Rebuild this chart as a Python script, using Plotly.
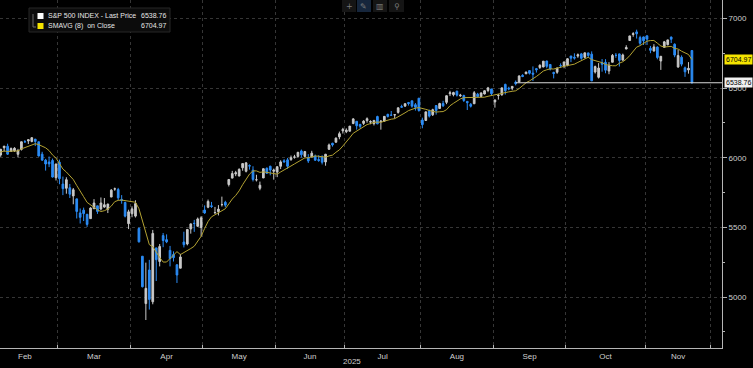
import plotly.graph_objects as go
import pandas as pd

# ---------------- data (read / estimated from the reference) ----------------
dates = [
    # Jan (lead-in for the moving average)
    "2025-01-21", "2025-01-22", "2025-01-23", "2025-01-24", "2025-01-27", "2025-01-28", "2025-01-29", "2025-01-30", "2025-01-31",
    # Feb
    "2025-02-03", "2025-02-04", "2025-02-05", "2025-02-06", "2025-02-07", "2025-02-10", "2025-02-11", "2025-02-12", "2025-02-13", "2025-02-14",
    "2025-02-18", "2025-02-19", "2025-02-20", "2025-02-21", "2025-02-24", "2025-02-25", "2025-02-26", "2025-02-27", "2025-02-28",
    # Mar
    "2025-03-03", "2025-03-04", "2025-03-05", "2025-03-06", "2025-03-07", "2025-03-10", "2025-03-11", "2025-03-12", "2025-03-13", "2025-03-14",
    "2025-03-17", "2025-03-18", "2025-03-19", "2025-03-20", "2025-03-21", "2025-03-24", "2025-03-25", "2025-03-26", "2025-03-27", "2025-03-28", "2025-03-31",
    # Apr
    "2025-04-01", "2025-04-02", "2025-04-03", "2025-04-04", "2025-04-07", "2025-04-08", "2025-04-09", "2025-04-10", "2025-04-11", "2025-04-14",
    "2025-04-15", "2025-04-16", "2025-04-17", "2025-04-21", "2025-04-22", "2025-04-23", "2025-04-24", "2025-04-25", "2025-04-28", "2025-04-29", "2025-04-30",
    # May
    "2025-05-01", "2025-05-02", "2025-05-05", "2025-05-06", "2025-05-07", "2025-05-08", "2025-05-09", "2025-05-12", "2025-05-13", "2025-05-14",
    "2025-05-15", "2025-05-16", "2025-05-19", "2025-05-20", "2025-05-21", "2025-05-22", "2025-05-23", "2025-05-27", "2025-05-28", "2025-05-29", "2025-05-30",
    # Jun
    "2025-06-02", "2025-06-03", "2025-06-04", "2025-06-05", "2025-06-06", "2025-06-09", "2025-06-10", "2025-06-11", "2025-06-12", "2025-06-13",
    "2025-06-16", "2025-06-17", "2025-06-18", "2025-06-20", "2025-06-23", "2025-06-24", "2025-06-25", "2025-06-26", "2025-06-27", "2025-06-30",
    # Jul
    "2025-07-01", "2025-07-02", "2025-07-03", "2025-07-07", "2025-07-08", "2025-07-09", "2025-07-10", "2025-07-11", "2025-07-14", "2025-07-15", "2025-07-16",
    "2025-07-17", "2025-07-18", "2025-07-21", "2025-07-22", "2025-07-23", "2025-07-24", "2025-07-25", "2025-07-28", "2025-07-29", "2025-07-30", "2025-07-31",
    # Aug
    "2025-08-01", "2025-08-04", "2025-08-05", "2025-08-06", "2025-08-07", "2025-08-08", "2025-08-11", "2025-08-12", "2025-08-13", "2025-08-14",
    "2025-08-15", "2025-08-18", "2025-08-19", "2025-08-20", "2025-08-21", "2025-08-22", "2025-08-25", "2025-08-26", "2025-08-27", "2025-08-28", "2025-08-29",
    # Sep
    "2025-09-02", "2025-09-03", "2025-09-04", "2025-09-05", "2025-09-08", "2025-09-09", "2025-09-10", "2025-09-11", "2025-09-12", "2025-09-15",
    "2025-09-16", "2025-09-17", "2025-09-18", "2025-09-19", "2025-09-22", "2025-09-23", "2025-09-24", "2025-09-25", "2025-09-26", "2025-09-29", "2025-09-30",
    # Oct
    "2025-10-01", "2025-10-02", "2025-10-03", "2025-10-06", "2025-10-07", "2025-10-08", "2025-10-09", "2025-10-10", "2025-10-13", "2025-10-14", "2025-10-15",
    "2025-10-16", "2025-10-17", "2025-10-20", "2025-10-21", "2025-10-22", "2025-10-23", "2025-10-24", "2025-10-27", "2025-10-28", "2025-10-29", "2025-10-30", "2025-10-31",
    # Nov
    "2025-11-03", "2025-11-04", "2025-11-05", "2025-11-06", "2025-11-07", "2025-11-10", "2025-11-11", "2025-11-12", "2025-11-13", "2025-11-14",
    "2025-11-17", "2025-11-18", "2025-11-19", "2025-11-20",
]

opens = [
    6014, 6081, 6076, 6121, 5969, 6027, 6058, 6050, 6096,
    5969, 5998, 6020, 6072, 6083, 6046, 6049, 6025, 6060, 6116, 6121, 6117, 6134, 6115, 6026, 5983, 5970, 5981, 5857,
    5968, 5811, 5781, 5785, 5726, 5705, 5604, 5624, 5594, 5563, 5635, 5655, 5632, 5646, 5630, 5718, 5776, 5772, 5701, 5679, 5527,
    5598, 5581, 5492, 5293, 4953, 5194, 4966, 5353, 5255, 5441, 5412, 5335, 5305, 5232, 5207, 5395, 5381, 5489, 5529, 5508, 5499,
    5625, 5645, 5655, 5605, 5613, 5663, 5680, 5808, 5854, 5884, 5869, 5928, 5903, 5944, 5911, 5842, 5781, 5855, 5925, 5939, 5903,
    5897, 5939, 5978, 5985, 5987, 6004, 6010, 6049, 6010, 6000, 6005, 6012, 5987, 6004, 5970, 6061, 6104, 6112, 6150, 6193,
    6187, 6191, 6246, 6262, 6240, 6247, 6267, 6256, 6245, 6296, 6259, 6263, 6312, 6306, 6307, 6326, 6368, 6371, 6397, 6409, 6381, 6428,
    6271, 6268, 6337, 6309, 6375, 6354, 6389, 6398, 6460, 6453, 6478, 6445, 6447, 6405, 6384, 6388, 6457, 6440, 6458, 6483, 6494,
    6401, 6447, 6452, 6527, 6500, 6500, 6543, 6545, 6592, 6603, 6626, 6608, 6640, 6648, 6652, 6695, 6670, 6613, 6614, 6662, 6658,
    6664, 6731, 6722, 6730, 6746, 6721, 6753, 6744, 6616, 6578, 6683, 6686, 6623, 6686, 6736, 6746, 6701, 6781, 6842, 6885, 6904, 6863, 6868,
    6876, 6786, 6767, 6795, 6695, 6793, 6812, 6867, 6815, 6652, 6722, 6646, 6631, 6770,
]

highs = [
    6051, 6100, 6119, 6128, 6018, 6074, 6062, 6087, 6120,
    6022, 6042, 6062, 6084, 6101, 6074, 6076, 6064, 6116, 6127, 6130, 6147, 6134, 6115, 6043, 5992, 6009, 5994, 5959,
    5987, 5865, 5860, 5812, 5783, 5705, 5636, 5642, 5597, 5645, 5703, 5655, 5715, 5711, 5670, 5775, 5786, 5784, 5732, 5685, 5627,
    5651, 5695, 5500, 5293, 5247, 5267, 5482, 5353, 5381, 5460, 5450, 5367, 5328, 5232, 5310, 5469, 5489, 5528, 5554, 5571, 5581,
    5658, 5700, 5683, 5647, 5660, 5721, 5691, 5845, 5906, 5906, 5924, 5958, 5968, 5953, 5939, 5878, 5829, 5922, 5930, 5943, 5922,
    5937, 5982, 5990, 5999, 6016, 6021, 6043, 6059, 6045, 6026, 6050, 6023, 6018, 6018, 6028, 6102, 6108, 6146, 6188, 6215,
    6211, 6227, 6284, 6263, 6243, 6270, 6290, 6269, 6270, 6302, 6268, 6299, 6316, 6336, 6310, 6360, 6381, 6390, 6401, 6409, 6393, 6428,
    6288, 6330, 6346, 6352, 6379, 6395, 6409, 6446, 6481, 6474, 6482, 6459, 6453, 6407, 6393, 6479, 6466, 6468, 6484, 6509, 6495,
    6416, 6459, 6502, 6532, 6510, 6513, 6555, 6592, 6600, 6619, 6627, 6656, 6645, 6671, 6694, 6697, 6670, 6618, 6649, 6678, 6689,
    6715, 6731, 6750, 6749, 6753, 6754, 6755, 6764, 6662, 6680, 6709, 6708, 6687, 6745, 6752, 6748, 6748, 6808, 6876, 6902, 6920, 6876, 6870,
    6877, 6803, 6816, 6800, 6730, 6839, 6847, 6870, 6822, 6775, 6735, 6655, 6687, 6771,
]

lows = [
    6006, 6076, 6074, 6088, 5962, 5994, 6008, 6042, 6031,
    5923, 5990, 6007, 6044, 6020, 6042, 6042, 6003, 6052, 6107, 6099, 6111, 6084, 6009, 5977, 5908, 5933, 5858, 5837,
    5810, 5732, 5742, 5711, 5666, 5564, 5528, 5546, 5504, 5563, 5631, 5597, 5622, 5641, 5603, 5718, 5763, 5695, 5670, 5572, 5488,
    5573, 5571, 5391, 5069, 4835, 4910, 4948, 5115, 5220, 5358, 5387, 5220, 5255, 5101, 5207, 5356, 5371, 5455, 5468, 5505, 5434,
    5597, 5638, 5640, 5597, 5586, 5650, 5645, 5794, 5853, 5868, 5867, 5907, 5895, 5915, 5830, 5830, 5767, 5855, 5886, 5874, 5843,
    5861, 5919, 5966, 5921, 5978, 5994, 6000, 6002, 6003, 5963, 6005, 5978, 5971, 5952, 5943, 6056, 6080, 6108, 6133, 6174,
    6177, 6188, 6241, 6202, 6211, 6236, 6252, 6241, 6232, 6241, 6202, 6259, 6289, 6303, 6281, 6317, 6360, 6365, 6375, 6360, 6339, 6331,
    6212, 6268, 6289, 6300, 6310, 6351, 6365, 6385, 6443, 6441, 6440, 6437, 6401, 6343, 6361, 6386, 6438, 6435, 6455, 6471, 6444,
    6360, 6418, 6446, 6454, 6485, 6485, 6520, 6542, 6579, 6601, 6598, 6551, 6612, 6638, 6650, 6643, 6627, 6570, 6603, 6645, 6643,
    6657, 6687, 6705, 6718, 6704, 6714, 6717, 6551, 6605, 6569, 6618, 6607, 6600, 6686, 6718, 6655, 6699, 6780, 6840, 6869, 6856, 6810, 6810,
    6810, 6751, 6762, 6707, 6631, 6793, 6807, 6824, 6722, 6646, 6657, 6581, 6604, 6532,
]

closes = [
    6049.24, 6086.37, 6118.71, 6101.24, 6012.28, 6067.70, 6039.31, 6071.17, 6040.53,
    5994.57, 6037.88, 6061.48, 6083.57, 6025.99, 6066.44, 6068.50, 6051.97, 6115.07, 6114.63, 6129.58, 6144.15, 6117.52, 6013.13,
    5983.25, 5955.25, 5956.06, 5861.57, 5954.50,
    5849.72, 5778.15, 5842.63, 5738.52, 5770.20, 5614.56, 5572.07, 5599.30, 5521.52, 5638.94, 5675.12, 5614.66, 5675.29, 5662.89,
    5667.56, 5767.57, 5776.65, 5712.20, 5693.31, 5580.94, 5611.85,
    5633.07, 5670.97, 5396.52, 5074.08, 5062.25, 4982.77, 5456.90, 5268.05, 5363.36, 5405.97, 5396.63, 5275.70, 5282.70, 5158.20,
    5287.76, 5375.86, 5484.77, 5525.21, 5528.75, 5560.83, 5569.06,
    5604.14, 5686.67, 5650.38, 5606.91, 5631.28, 5663.94, 5659.91, 5844.19, 5886.55, 5892.58, 5916.93, 5958.38, 5963.60, 5940.46,
    5844.61, 5842.01, 5802.82, 5921.54, 5888.55, 5912.17, 5911.69,
    5935.94, 5970.37, 5970.81, 5939.30, 6000.36, 6005.88, 6038.81, 6022.24, 6045.26, 5976.97, 6033.11, 5982.72, 5980.87, 5967.84,
    6025.17, 6092.18, 6092.16, 6141.02, 6173.07, 6204.95,
    6198.01, 6227.42, 6279.35, 6229.98, 6225.52, 6263.26, 6280.46, 6259.75, 6268.56, 6243.76, 6263.70, 6297.36, 6296.79, 6305.60,
    6309.62, 6358.91, 6363.35, 6388.64, 6389.77, 6370.86, 6362.90, 6339.39,
    6238.01, 6329.94, 6299.19, 6345.06, 6340.00, 6389.45, 6373.45, 6445.76, 6466.58, 6468.54, 6449.80, 6449.15, 6411.37, 6395.78,
    6370.17, 6466.91, 6439.32, 6465.94, 6481.40, 6501.86, 6460.26,
    6415.54, 6448.26, 6502.08, 6481.50, 6495.15, 6512.61, 6532.04, 6587.47, 6584.29, 6615.28, 6606.76, 6600.35, 6631.96, 6664.36,
    6693.75, 6656.92, 6637.97, 6604.72, 6643.70, 6661.21, 6688.46,
    6711.20, 6715.35, 6715.79, 6740.28, 6714.59, 6753.72, 6735.11, 6552.51, 6654.72, 6644.31, 6671.06, 6629.07, 6664.01, 6735.13,
    6735.35, 6699.40, 6738.44, 6791.69, 6875.16, 6890.89, 6890.59, 6822.34, 6840.20,
    6851.97, 6771.55, 6796.29, 6720.32, 6728.80, 6832.43, 6846.61, 6850.92, 6737.49, 6734.11, 6672.41, 6617.32, 6642.16, 6538.76,
]

# remaining sessions of November (axis calendar only, no data)
future_sessions = ["2025-11-21", "2025-11-24", "2025-11-25", "2025-11-26", "2025-11-28"]

month_labels = ["Feb", "Mar", "Apr", "May", "Jun", "Jul", "Aug", "Sep", "Oct", "Nov"]
year_label = "2025"
y_ticks = [5000, 5500, 6000, 6500, 7000]
series_name = "S&P 500 INDEX - Last Price"
sma_name = "SMAVG (8)  on Close"
sma_window = 8
last_line_start = "2025-09-10"

# ---------------- derived ----------------
x = list(range(len(dates)))
sma = pd.Series(closes).rolling(sma_window).mean().tolist()

calendar = dates + future_sessions
months = [d[:7] for d in calendar]
bounds = [i - 0.5 for i in range(1, len(calendar)) if months[i] != months[i - 1]]
bounds.append(len(calendar) - 0.5)
mids = [(bounds[k] + bounds[k + 1]) / 2 for k in range(len(bounds) - 1)]
grid_x = bounds[1:]

X_RANGE = [10.8, 219.7]
Y_RANGE = [4634, 7133]
W, H = 753, 368
PW, PH = 722, 348  # plot area in px


def px(v):
    return v / PW


def py(v):
    return 1 - v / PH


UP = "#c9c9c9"
DOWN = "#2b8cf5"
SMA_C = "#b3a232"
AX = "#b5b5b5"
GRID = "#363636"
FONT = "Liberation Sans, Arial, sans-serif"

fig = go.Figure()
fig.add_trace(go.Candlestick(
    x=x, open=opens, high=highs, low=lows, close=closes,
    increasing=dict(line=dict(color=UP, width=1), fillcolor=UP),
    decreasing=dict(line=dict(color=DOWN, width=1), fillcolor=DOWN),
    whiskerwidth=0, showlegend=False, hoverinfo="skip",
))
fig.add_trace(go.Scatter(
    x=x, y=sma, mode="lines", line=dict(color=SMA_C, width=1),
    showlegend=False, hoverinfo="skip",
))

shapes = []
# last price line
shapes.append(dict(type="line", xref="x", yref="y",
                   x0=dates.index(last_line_start), x1=X_RANGE[1],
                   y0=closes[-1], y1=closes[-1],
                   line=dict(color="#d9d9d9", width=1.2), layer="above"))
# legend box
shapes.append(dict(type="rect", xref="paper", yref="paper",
                   x0=px(29), x1=px(170), y0=py(32), y1=py(8),
                   fillcolor="#0c0c0c", line=dict(color="#262626", width=1), layer="above"))
shapes.append(dict(type="rect", xref="paper", yref="paper",
                   x0=px(37.5), x1=px(43.5), y0=py(19), y1=py(13),
                   fillcolor="#ffffff", line=dict(width=0), layer="above"))
shapes.append(dict(type="rect", xref="paper", yref="paper",
                   x0=px(37.5), x1=px(43.5), y0=py(29), y1=py(23),
                   fillcolor="#f5e400", line=dict(width=0), layer="above"))
shapes.append(dict(type="path", xref="paper", yref="paper",
                   path=f"M {px(33)} {py(14)} L {px(33)} {py(27)} L {px(36)} {py(27)}",
                   line=dict(color="#6a6a6a", width=1), layer="above"))
# toolbar tiles
for (a, b, c) in [(342, 356, "#151515"), (357, 371, "#16263c"), (373, 387, "#151515"), (389, 404, "#151515")]:
    shapes.append(dict(type="rect", xref="paper", yref="paper",
                       x0=px(a), x1=px(b), y0=py(12), y1=py(0),
                       fillcolor=c, line=dict(width=0), layer="above"))

annotations = []
lf = dict(family=FONT, size=7, color="#e6e6e6")
annotations.append(dict(xref="paper", yref="paper", x=px(46), y=py(16), text=series_name,
                        showarrow=False, xanchor="left", yanchor="middle", font=lf))
annotations.append(dict(xref="paper", yref="paper", x=px(168), y=py(16), text=f"{closes[-1]:.2f}",
                        showarrow=False, xanchor="right", yanchor="middle", font=lf))
annotations.append(dict(xref="paper", yref="paper", x=px(46), y=py(26), text=sma_name,
                        showarrow=False, xanchor="left", yanchor="middle", font=lf))
annotations.append(dict(xref="paper", yref="paper", x=px(168), y=py(26), text=f"{sma[-1]:.2f}",
                        showarrow=False, xanchor="right", yanchor="middle", font=lf))
# toolbar glyphs
for (cx, g) in [(349, "+"), (364, "✎"), (380, "▥"), (396.5, "⚲")]:
    annotations.append(dict(xref="paper", yref="paper", x=px(cx), y=py(6), text=g,
                            showarrow=False, xanchor="center", yanchor="middle",
                            font=dict(family="DejaVu Sans", size=8, color="#7a7a7a")))
# price flags on the right axis
annotations.append(dict(xref="paper", yref="y", x=px(724.5), y=sma[-1], text=f"{sma[-1]:.2f}",
                        showarrow=False, xanchor="left", yanchor="middle", bgcolor="#f5e400",
                        borderpad=1, font=dict(family=FONT, size=7, color="#000000")))
annotations.append(dict(xref="paper", yref="y", x=px(724.5), y=closes[-1], text=f"{closes[-1]:.2f}",
                        showarrow=False, xanchor="left", yanchor="middle", bgcolor="#f0f0f0",
                        borderpad=1, font=dict(family=FONT, size=7, color="#000000")))
# year label
annotations.append(dict(xref="paper", yref="paper", x=px(352), y=py(362), text=year_label,
                        showarrow=False, xanchor="center", yanchor="middle",
                        font=dict(family=FONT, size=8, color="#cfcfcf")))

fig.update_layout(
    width=W, height=H,
    margin=dict(l=0, r=W - PW, t=0, b=H - PH, autoexpand=False),
    paper_bgcolor="#000000", plot_bgcolor="#000000",
    font=dict(family=FONT, size=8, color="#cfcfcf"),
    shapes=shapes, annotations=annotations,
    showlegend=False, hovermode=False,
    xaxis=dict(
        range=X_RANGE, rangeslider=dict(visible=False),
        tickmode="array", tickvals=mids, ticktext=month_labels,
        ticks="", showgrid=False, zeroline=False,
        showline=True, linecolor=AX, linewidth=1, mirror=False,
        tickfont=dict(family=FONT, size=8, color="#cfcfcf"),
        minor=dict(tickmode="array", tickvals=grid_x, showgrid=True,
                   gridcolor=GRID, griddash="dot", gridwidth=1,
                   ticks="inside", ticklen=3, tickcolor=AX),
    ),
    yaxis=dict(
        side="right", range=Y_RANGE,
        tickmode="array", tickvals=y_ticks, ticktext=[str(v) for v in y_ticks],
        ticks="outside", ticklen=4, tickcolor=AX,
        showgrid=True, gridcolor=GRID, griddash="dot", gridwidth=1,
        zeroline=False, showline=True, linecolor=AX, linewidth=1,
        tickfont=dict(family=FONT, size=8, color="#cfcfcf"),
        minor=dict(dtick=250, tick0=0, ticks="outside", ticklen=2, tickcolor=AX, showgrid=False),
    ),
)

fig.write_html("out.html", config={"displayModeBar": False},
               post_script="document.body.style.margin='0';document.body.style.background='#000';")
